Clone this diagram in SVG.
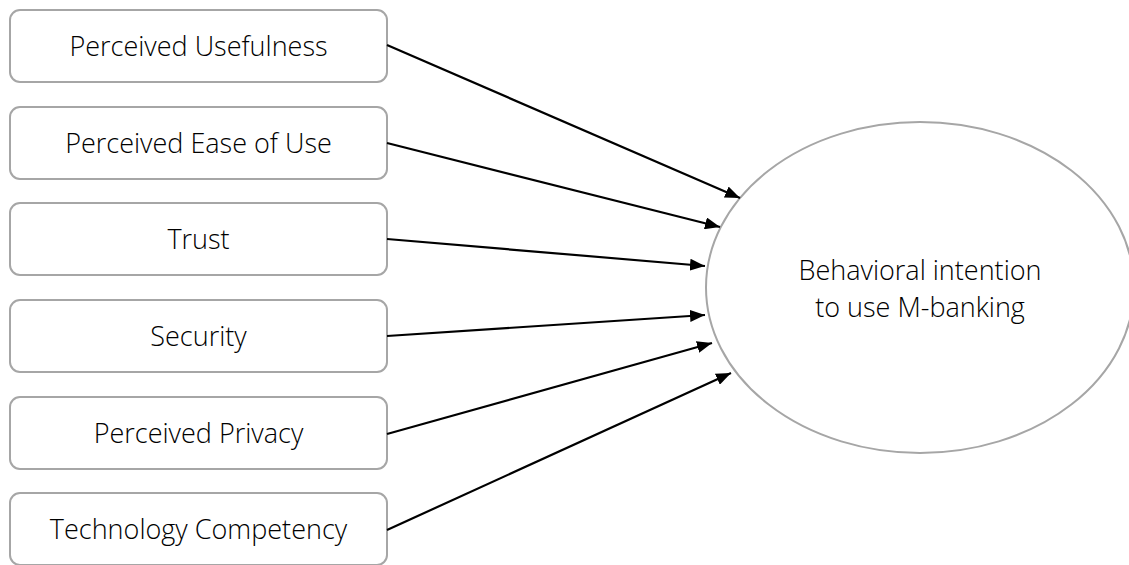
<svg xmlns="http://www.w3.org/2000/svg" width="1129" height="565" viewBox="0 0 1129 565">
<style>
.box{fill:#fff;stroke:#a6a6a6;stroke-width:2}
.lbl{font-family:"Open Sans","Liberation Sans",sans-serif;font-weight:300;font-size:27px;fill:#000;text-anchor:middle}
.con{stroke:#000;stroke-width:2.2;fill:none;marker-end:url(#ah)}
</style>
<defs>
<marker id="ah" markerWidth="15" markerHeight="12" refX="15" refY="6" orient="auto" markerUnits="userSpaceOnUse">
<path d="M0,0 L15,6 L0,12 Z" fill="#000"/>
</marker>
</defs>
<rect width="1129" height="565" fill="#fff"/>
<g id="n1"><rect class="box" x="10" y="10" width="377" height="72" rx="10"/><text class="lbl" x="198.5" y="56">Perceived Usefulness</text></g>
<g id="n2"><rect class="box" x="10" y="107" width="377" height="72" rx="10"/><text class="lbl" x="198.5" y="153">Perceived Ease of Use</text></g>
<g id="n3"><rect class="box" x="10" y="203" width="377" height="72" rx="10"/><text class="lbl" x="198.5" y="249">Trust</text></g>
<g id="n4"><rect class="box" x="10" y="300" width="377" height="72" rx="10"/><text class="lbl" x="198.5" y="346">Security</text></g>
<g id="n5"><rect class="box" x="10" y="397" width="377" height="72" rx="10"/><text class="lbl" x="198.5" y="443">Perceived Privacy</text></g>
<g id="n6"><rect class="box" x="10" y="493" width="377" height="72" rx="10"/><text class="lbl" x="198.5" y="539">Technology Competency</text></g>
<g id="target"><ellipse class="box" cx="920" cy="287.5" rx="214" ry="165.5"/><text class="lbl" x="920" y="280">Behavioral intention</text><text class="lbl" x="920" y="317">to use M-banking</text></g>
<g id="connectors">
<line class="con" x1="387" y1="45" x2="740" y2="198"/>
<line class="con" x1="387" y1="143" x2="720" y2="227"/>
<line class="con" x1="387" y1="239" x2="705" y2="266"/>
<line class="con" x1="387" y1="336" x2="705" y2="315"/>
<line class="con" x1="387" y1="434" x2="712" y2="343"/>
<line class="con" x1="387" y1="530" x2="731" y2="373"/>
</g>
</svg>
